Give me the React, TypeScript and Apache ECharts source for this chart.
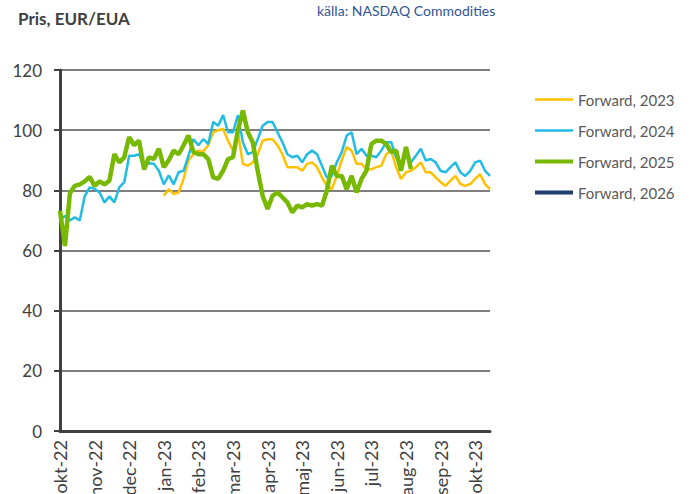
import React, { useEffect, useRef } from "react";
import * as echarts from "echarts";

const months = [
  "okt-22", "nov-22", "dec-22", "jan-23", "feb-23", "mar-23", "apr-23",
  "maj-23", "jun-23", "jul-23", "aug-23", "sep-23", "okt-23",
];
const POINTS_PER_MONTH = 7;
const N_POINTS = 88;
const categories = Array.from({ length: N_POINTS }, (_, i) =>
  i % POINTS_PER_MONTH === 0 ? months[i / POINTS_PER_MONTH] ?? "" : ""
);

const fwd2023: (number | null)[] = [
  null, null, null, null, null, null, null, null, null, null,
  null, null, null, null, null, null, null, null, null, null,
  null, 78.2, 80.4, 78.8, 79.3, 83.8, 90, 92, 93.2, 93,
  95, 99.3, 100, 100.4, 96.5, 93.2, 99.3, 88.8, 88.2, 89.3,
  92, 96.5, 97, 97, 95, 92, 87.7, 87.7, 87.7, 86.5,
  88.8, 89.3, 87.7, 84.3, 81.5, 80.4, 84.8, 90, 94.4, 93.2,
  88.8, 88.8, 87, 87, 87.7, 88.2, 92, 93.2, 87.7, 83.8,
  86, 86.5, 87.7, 89.3, 86, 86, 84.3, 82.7, 81.5, 83.2,
  84.8, 82.1, 81.5, 82.1, 83.8, 85.4, 82.1, 80.4,
];

const fwd2024: (number | null)[] = [
  70, 71.5, 70, 71, 70, 78, 81, 80.5, 79.3, 76,
  78, 76, 81, 82.7, 91.5, 91.5, 92, 88, 89, 88.8,
  86.5, 82, 85, 82, 86, 86.5, 91.5, 97, 95, 97,
  95.4, 102.7, 101.5, 105, 99.3, 99.3, 105, 96, 92, 92.7,
  97, 101.5, 102.7, 102.7, 99.3, 96, 92, 91, 91.5, 89.3,
  92, 93.2, 92, 88.2, 84.3, 84.8, 89.3, 92.7, 98.2, 99.3,
  92, 93.8, 91.5, 91.5, 91, 93.2, 96, 96, 91, 87.7,
  92, 89.3, 91.5, 93.8, 89.9, 90.4, 89.3, 86.5, 86, 87.7,
  89.3, 86, 84.8, 86.5, 89.3, 89.9, 86.5, 84.8,
];

const fwd2025: (number | null)[] = [
  73.2, 61.5, 79, 81.5, 82, 83, 84.5, 81.5, 83, 82,
  83.2, 92, 89.3, 91, 97.7, 95, 96.5, 87, 91, 90.4,
  93.8, 87.7, 90, 93.2, 92, 95, 98.2, 92.7, 92, 92,
  90.4, 84.3, 83.8, 86.5, 90.4, 91, 100, 106.5, 99.3, 96,
  86.5, 78.2, 73.8, 78.2, 79.3, 77.7, 76, 72.7, 74.9, 74.3,
  75.4, 74.9, 75.4, 74.9, 79.9, 88.2, 84.8, 84.8, 80.4, 84.8,
  79.3, 83.8, 86.5, 95.4, 96.5, 96.5, 95.4, 92.7, 93.2, 86.5,
  94.4, 87.1,
];

const fwd2026: (number | null)[] = [];

const seriesNames = ["Forward, 2023", "Forward, 2024", "Forward, 2025", "Forward, 2026"];
const seriesData = [fwd2023, fwd2024, fwd2025, fwd2026];
const seriesColors = ["#FFC000", "#21BBE3", "#76B900", "#1F3F6E"];
const seriesWidths = [2.5, 2.5, 4.5, 4.5];

const yTicks = [0, 20, 40, 60, 80, 100, 120];

export default function App() {
  const ref = useRef<HTMLDivElement>(null);

  useEffect(() => {
    if (!ref.current) return;
    const chart = echarts.init(ref.current, undefined, { renderer: "svg" });
    const font = "Lato, 'Noto Sans', sans-serif";
    chart.setOption({
      animation: false,
      backgroundColor: "#ffffff",
      textStyle: { fontFamily: font },
      title: [
        {
          text: "Pris, EUR/EUA",
          left: 13,
          top: 5,
          textStyle: { fontSize: 17, fontWeight: "bold", color: "#404040", fontFamily: font },
        },
        {
          text: "källa: NASDAQ Commodities",
          left: 312,
          top: -2,
          textStyle: { fontSize: 14, fontWeight: "normal", color: "#2F5597", fontFamily: font },
        },
      ],
      legend: {
        orient: "vertical",
        left: 530,
        top: 87,
        itemWidth: 38,
        itemHeight: 14,
        itemGap: 16,
        data: seriesNames.map((n, i) => ({
          name: n,
          icon: i >= 2 ? "path://M0,5 L38,5 L38,9 L0,9 Z" : "path://M0,6 L38,6 L38,8.5 L0,8.5 Z",
          itemStyle: { color: seriesColors[i] },
        })),
        textStyle: { fontSize: 15, color: "#595959", fontFamily: font },
      },
      grid: { left: 60, top: 70, right: 210, bottom: 63, containLabel: false, outerBoundsMode: "none" },
      xAxis: {
        type: "category",
        data: categories,
        boundaryGap: false,
        axisLine: { show: true, lineStyle: { color: "#404040", width: 3 } },
        axisTick: { show: false },
        splitLine: { show: false },
        axisLabel: {
          interval: POINTS_PER_MONTH - 1,
          rotate: 90,
          margin: 9,
          fontSize: 18,
          color: "#404040",
          fontFamily: font,
        },
      },
      yAxis: {
        type: "value",
        min: yTicks[0],
        max: yTicks[yTicks.length - 1],
        interval: 20,
        axisLine: { show: true, lineStyle: { color: "#404040", width: 3 } },
        axisTick: { show: true, length: 6, lineStyle: { color: "#404040", width: 2 } },
        splitLine: { show: true, lineStyle: { color: "#555555", width: 1.5 } },
        axisLabel: { margin: 18, fontSize: 17, color: "#404040", fontFamily: font },
      },
      series: seriesNames.map((n, i) => ({
        name: n,
        type: "line",
        data: seriesData[i],
        showSymbol: false,
        symbol: "none",
        connectNulls: false,
        itemStyle: { color: seriesColors[i] },
        lineStyle: { color: seriesColors[i], width: seriesWidths[i] },
        z: 2 + i,
      })),
    });
    return () => chart.dispose();
  }, []);

  return (
    <div
      ref={ref}
      style={{ position: "fixed", left: 0, top: 0, width: 700, height: 494, overflow: "hidden" }}
    />
  );
}
